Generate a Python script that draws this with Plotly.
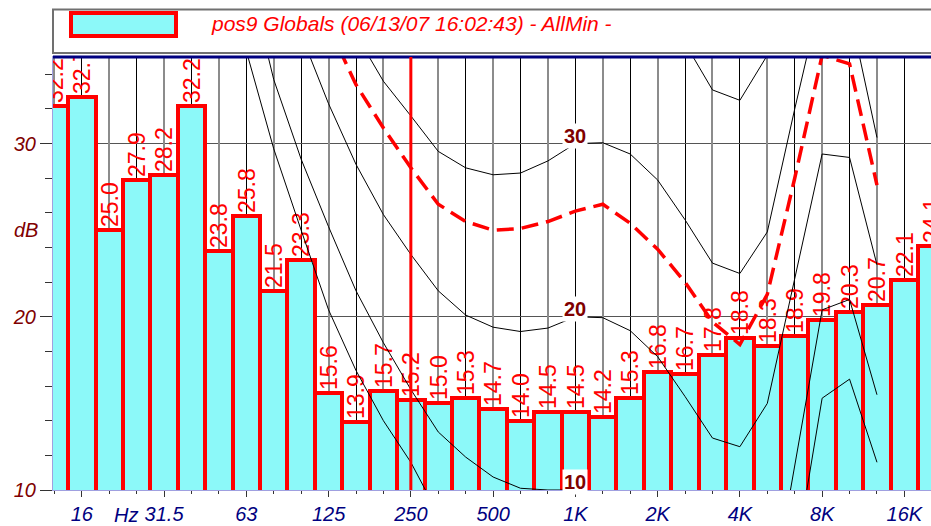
import plotly.graph_objects as go

# 1/3-octave band centres (display names) and measured band levels in dB
bands = ["12.5", "16", "20", "25", "31.5", "40", "50", "63", "80", "100",
         "125", "160", "200", "250", "315", "400", "500", "630", "800", "1K",
         "1.25K", "1.6K", "2K", "2.5K", "3.15K", "4K", "5K", "6.3K", "8K", "10K",
         "12.5K", "16K", "20K"]
levels = [32.2, 32.7, 25.0, 27.9, 28.2, 32.2, 23.8, 25.8, 21.5, 23.3,
          15.6, 13.9, 15.7, 15.2, 15.0, 15.3, 14.7, 14.0, 14.5, 14.5,
          14.2, 15.3, 16.8, 16.7, 17.8, 18.8, 18.3, 18.9, 19.8, 20.3,
          20.7, 22.1, 24.1]

# octave tick labels along the frequency axis
tick_bands = ["16", "31.5", "63", "125", "250", "500", "1K", "2K", "4K", "8K", "16K"]

# equal-loudness contours (dB per band, None where not drawn)
threshold = [None] * 6 + [41.0, 35.4, 29.7, 25.0, 20.4, 16.9, 14.0, 11.6, 8.6, 6.5,
                          4.6, 3.2, 2.4, 2.4, 3.5, 1.7, -1.3, -4.0, -5.5, -5.0,
                          -1.5, 5.8, 15.3, 16.4, 11.6] + [None] * 2
phon_10 = [None] * 6 + [46.5, 40.2, 33.7, 29.1, 25.2, 21.5, 18.5, 15.8, 13.35, 11.9,
                        10.75, 10.1, 10.0, 10.0, 9.6, 8.8, 6.2, 3.4, 2.2, 2.0,
                        2.4, 11.5, 20.4, 21.0, 15.5] + [None] * 2
phon_20 = [None] * 8 + [41.5, 36.3, 32.3, 28.8, 25.9, 23.6, 21.5, 20.1, 19.4, 19.15,
                        19.35, 20.0, 19.95, 19.2, 17.7, 15.4, 13.0, 12.5, 15.0, 22.2,
                        29.4, 29.2, 23.0] + [None] * 2
phon_30 = [None] * 11 + [36.3, 33.6, 31.6, 29.55, 28.6, 28.2, 28.3, 29.0, 30.0, 30.05,
                         29.4, 27.9, 25.6, 23.1, 22.5, 24.9, 32.0, 38.8, 37.7, 30.35] + [None] * 2
phon_40 = [None] * 22 + [38.5, 35.8, 33.1, 32.5, 35.1, 42.0] + [None] * 5
# loudness contour of the measured spectrum
loudness = [None] * 10 + [36.8, 33.4, 30.9, 28.6, 26.5, 25.5, 25.0, 25.1, 25.5, 26.1,
                          26.5, 25.4, 23.9, 22.0, 19.7, 18.4, 21.3, 28.0, 35.1, 34.6,
                          27.6] + [None] * 2

contour_labels = [10, 20, 30]
contour_at_1k = {10: phon_10, 20: phon_20, 30: phon_30}
cursor_band = "250"
legend_text = "pos9 Globals (06/13/07 16:02:43) - AllMin -"

FONT = "Liberation Sans, Arial, sans-serif"
CYAN = "#8cf9f9"
RED = "#ff0000"
DARKRED = "#800000"
NAVY = "#000080"
FRAME = "#a0a0e0"

idx = list(range(len(bands)))
x_range = [-0.05, 31.97]
y_range = [10, 35]

fig = go.Figure()

fig.add_trace(go.Bar(
    x=idx, y=levels, width=1,
    marker=dict(color=CYAN, line=dict(color=RED, width=4)),
    texttemplate="%{y:.1f}", textposition="outside", textangle=-90,
    textfont=dict(family=FONT, size=23, color=RED),
    constraintext="none", cliponaxis=True, showlegend=False,
))

for curve in [threshold, phon_10, phon_20, phon_30, phon_40]:
    fig.add_trace(go.Scatter(
        x=idx, y=curve, xaxis="x2", mode="lines",
        line=dict(color="black", width=1), connectgaps=False,
        showlegend=False, hoverinfo="skip",
    ))

fig.add_trace(go.Scatter(
    x=idx, y=loudness, xaxis="x2", mode="lines",
    line=dict(color=RED, width=3.5, dash="17px,8px"),
    showlegend=False, hoverinfo="skip",
))

# contour value labels at 1 kHz
k1 = bands.index("1K")
for phon in contour_labels:
    fig.add_annotation(
        x=k1, y=contour_at_1k[phon][k1], xref="x", yref="y",
        text="<b>%d</b>" % phon, showarrow=False, yshift=8,
        font=dict(family=FONT, size=20, color=DARKRED),
        bgcolor="white", borderpad=1,
    )

tickvals = [bands.index(b) for b in tick_bands]

fig.update_layout(
    width=931, height=526,
    margin=dict(l=53, r=0, t=57, b=36),
    paper_bgcolor="white", plot_bgcolor="white",
    bargap=0,
    xaxis=dict(
        range=x_range, tickmode="array", tickvals=tickvals, ticktext=tick_bands,
        ticks="outside", ticklen=6, tickcolor="#333333",
        minor=dict(tick0=0, dtick=1, ticks="outside", ticklen=3,
                   tickcolor="#333333", showgrid=False),
        showgrid=False, zeroline=False,
        showline=True, linecolor=FRAME, linewidth=1, mirror=True,
        tickfont=dict(family=FONT, size=20, color=NAVY, style="italic"),
    ),
    xaxis2=dict(
        range=x_range, overlaying="x", anchor="y",
        tick0=0, dtick=2, showticklabels=False, ticks="",
        showgrid=True, gridcolor="#8c8c8c", gridwidth=2,
        minor=dict(tick0=0, dtick=1, showgrid=True, gridcolor="#000000",
                   gridwidth=1, ticks=""),
        zeroline=False, showline=False,
    ),
    yaxis=dict(
        range=y_range, tick0=10, dtick=10,
        ticks="outside", ticklen=12, tickcolor="#333333",
        minor=dict(tick0=10, dtick=2, ticks="outside", ticklen=7,
                   tickcolor="#333333", showgrid=False),
        showgrid=True, gridcolor="#555555", gridwidth=1, zeroline=False,
        showline=True, linecolor=FRAME, linewidth=1, mirror=True,
        tickfont=dict(family=FONT, size=20, color=DARKRED, style="italic"),
    ),
    font=dict(family=FONT),
)

# frame decorations: heavy top rule and the band cursor
fig.add_shape(type="line", xref="paper", yref="paper", x0=0, x1=1, y0=1, y1=1,
              line=dict(color=NAVY, width=3), layer="above")
ci = bands.index(cursor_band)
fig.add_shape(type="line", xref="x", yref="paper", x0=ci, x1=ci, y0=0, y1=1,
              line=dict(color=RED, width=3), layer="above")

# legend panel
fig.add_shape(type="rect", xref="paper", yref="paper",
              x0=0, x1=1.01, y0=1.0092, y1=1.1097,
              line=dict(color="#707070", width=2), fillcolor="white", layer="above")
fig.add_shape(type="rect", xref="paper", yref="paper",
              x0=0.0205, x1=0.1401, y0=1.0485, y1=1.1016,
              line=dict(color=RED, width=4), fillcolor=CYAN, layer="above")
fig.add_annotation(x=0.1777, y=1.0785, xref="paper", yref="paper",
                   xanchor="left", yanchor="middle", showarrow=False,
                   text=legend_text,
                   font=dict(family=FONT, size=21, color=RED, style="italic"))

# axis captions
fig.add_annotation(x=-0.0148, y=25, xref="paper", yref="y",
                   xanchor="right", yanchor="middle", showarrow=False, text="dB",
                   font=dict(family=FONT, size=20, color=DARKRED, style="italic"))
fig.add_annotation(x=2.6, y=-0.058, xref="x", yref="paper",
                   xanchor="center", yanchor="middle", showarrow=False, text="Hz",
                   font=dict(family=FONT, size=20, color=NAVY, style="italic"))

fig.write_html("out.html", config={"displayModeBar": False})
